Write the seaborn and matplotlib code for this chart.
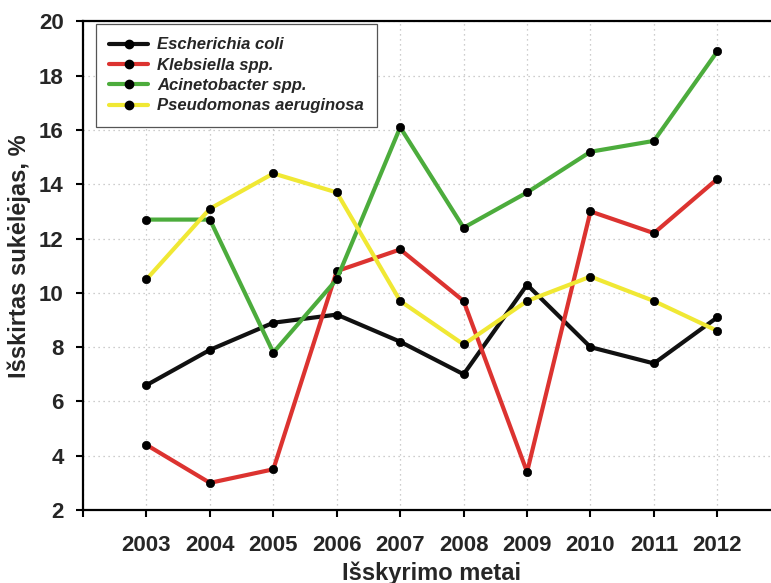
import matplotlib
matplotlib.use("Agg")
import matplotlib.pyplot as plt
from matplotlib.lines import Line2D
import seaborn as sns
import pandas as pd

# Isolation share (%) of each pathogen by year
years = [2003, 2004, 2005, 2006, 2007, 2008, 2009, 2010, 2011, 2012]
e_coli = [6.6, 7.9, 8.9, 9.2, 8.2, 7.0, 10.3, 8.0, 7.4, 9.1]
klebsiella = [4.4, 3.0, 3.5, 10.8, 11.6, 9.7, 3.4, 13.0, 12.2, 14.2]
acinetobacter = [12.7, 12.7, 7.8, 10.5, 16.1, 12.4, 13.7, 15.2, 15.6, 18.9]
pseudomonas = [10.5, 13.1, 14.4, 13.7, 9.7, 8.1, 9.7, 10.6, 9.7, 8.6]

series_names = ["Escherichia coli", "Klebsiella spp.", "Acinetobacter spp.",
                "Pseudomonas aeruginosa"]
series_values = [e_coli, klebsiella, acinetobacter, pseudomonas]
series_colors = ["#111111", "#dc3330", "#4cac3c", "#f0e834"]

x_ticks = list(range(2002, 2014))
x_tick_labels = [""] + [str(y) for y in years] + [""]
y_ticks = list(range(2, 21, 2))

df = pd.DataFrame({
    "Metai": years * len(series_names),
    "Procentas": [v for vals in series_values for v in vals],
    "Sukėlėjas": [n for n in series_names for _ in years],
})

sns.set_theme(style="white")
plt.rcParams["font.family"] = ["Liberation Sans", "DejaVu Sans"]
plt.rcParams["font.weight"] = "bold"

fig = plt.figure(figsize=(7.71, 5.83), dpi=100)
ax = fig.add_axes([0.1077, 0.1252, 0.905, 0.838])

palette = dict(zip(series_names, series_colors))
sns.lineplot(data=df, x="Metai", y="Procentas", hue="Sukėlėjas",
             hue_order=series_names, palette=palette, linewidth=3.0,
             marker="o", markersize=6, markerfacecolor="black",
             markeredgecolor="black", markeredgewidth=0.5,
             legend=False, ax=ax, zorder=3)

ax.set_xlim(2002, 2013)
ax.set_ylim(2, 20)
ax.set_xticks(x_ticks)
ax.set_xticklabels(x_tick_labels)
ax.set_yticks(y_ticks)

ax.grid(True, color="#bdbdbd", linestyle=(0, (1, 3)), linewidth=0.9)
ax.set_axisbelow(True)

for side in ["left", "bottom", "top"]:
    ax.spines[side].set_visible(True)
    ax.spines[side].set_color("black")
    ax.spines[side].set_linewidth(1.6)
ax.spines["right"].set_visible(False)

ax.tick_params(axis="both", which="major", direction="out", length=5,
               width=1.5, color="black", labelsize=16, pad=9,
               left=True, bottom=True)
ax.tick_params(axis="x", pad=13)
for lbl in ax.get_xticklabels() + ax.get_yticklabels():
    lbl.set_fontweight("bold")

ax.set_xlabel("Išskyrimo metai", fontsize=17, fontweight="bold", labelpad=4)
ax.set_ylabel("Išskirtas sukėlėjas, %", fontsize=17, fontweight="bold")
ax.yaxis.set_label_coords(-0.074, 0.52)

handles = [Line2D([0], [0], color=c, linewidth=3.0, marker="o", markersize=6,
                  markerfacecolor="black", markeredgecolor="black")
           for c in series_colors]
leg = ax.legend(handles, series_names, loc="upper left",
                bbox_to_anchor=(0.0186, 0.9945), borderaxespad=0,
                frameon=True, fancybox=False,
                framealpha=1, edgecolor="#555555", handlelength=2.3,
                labelspacing=0.32, borderpad=0.8, handletextpad=0.55,
                prop={"size": 12, "weight": "bold", "style": "italic"})
leg.get_frame().set_linewidth(0.9)

fig.savefig("out.png", dpi=100)
